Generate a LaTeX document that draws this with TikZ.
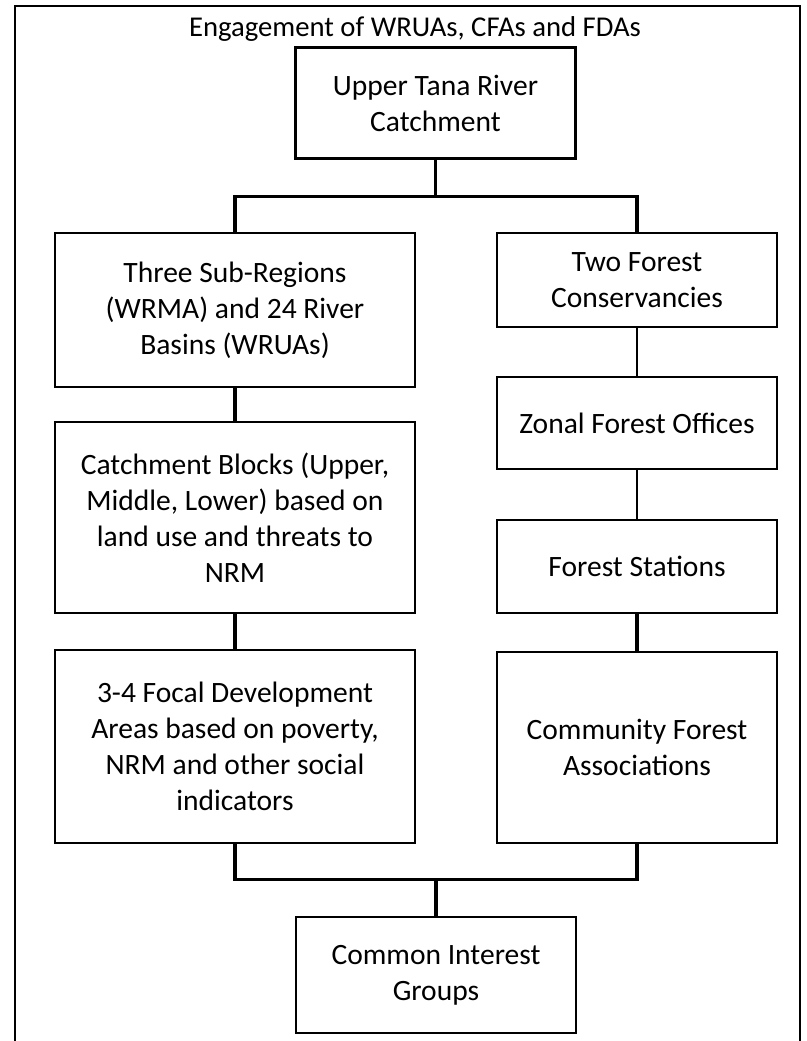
\documentclass[tikz,border=0pt]{standalone}
\usepackage{fontspec}
\setmainfont{Carlito}
\usepackage{tikz}
\usetikzlibrary{positioning, calc}

\begin{document}
\begin{tikzpicture}[
        x=0.025cm, y=-0.025cm,
        block/.style={rectangle, draw, line width=1.6pt, text centered, align=center, inner sep=0pt,
            font=\fontsize{21}{25.6}\selectfont},
        wide/.style={block, minimum width=9cm},
        narrow/.style={block, minimum width=7cm},
        trunk/.style={line width=2.3pt},
        link/.style={line width=1.6pt}
    ]
        \useasboundingbox (0,0) rectangle (807,1041);

        % Outer frame and heading
        \draw[link] (15,1041) |- (800,6) -- (800,1041);
        \node[anchor=base, font=\fontsize{20.4}{24}\selectfont] (title) at (415,36) {Engagement of WRUAs, CFAs and FDAs};

        % Catchment
        \node[narrow, minimum height=2.775cm] (catchment) at (435.5,103) {Upper Tana River\\ Catchment};

        % Water resources branch
        \node[wide, minimum height=3.85cm] (subregions) at (235,310) {Three Sub-Regions\\ (WRMA) and 24 River\\ Basins (WRUAs)};
        \node[wide, minimum height=4.775cm] (blocks) at (235,517.5) {Catchment Blocks (Upper,\\ Middle, Lower) based on\\ land use and threats to\\ NRM};
        \node[wide, minimum height=4.825cm] (focal) at (235,746.5) {3-4 Focal Development\\ Areas based on poverty,\\ NRM and other social\\ indicators};

        % Forest branch
        \node[narrow, minimum height=2.35cm] (conservancies) at (637,280) {Two Forest\\ Conservancies};
        \node[narrow, minimum height=2.3cm] (zonal) at (637,423) {Zonal Forest Offices};
        \node[narrow, minimum height=2.325cm] (stations) at (637,566.5) {Forest Stations};
        \node[narrow, minimum height=4.775cm] (cfa) at (637,747.5) {Community Forest\\ Associations};

        % Common interest groups
        \node[narrow, minimum height=2.9cm] (cig) at (436,975) {Common Interest\\ Groups};

        % Split into the two branches
        \draw[trunk] (catchment.south) -- ++(0,36.5) coordinate (split);
        \draw[trunk] (split) -| (subregions.north);
        \draw[trunk] (split) -| (conservancies.north);

        % Links within each branch
        \draw[trunk] (subregions) -- (blocks);
        \draw[trunk] (blocks) -- (focal);
        \draw[link] (conservancies) -- (zonal);
        \draw[link] (zonal) -- (stations);
        \draw[trunk] (stations) -- (cfa);

        % Branches meet again
        \draw[trunk] (focal.south) -- ++(0,35) coordinate (merge) -| (cfa.south);
        \draw[trunk] (cig.north) -- (cig.north |- merge);
    \end{tikzpicture}
\end{document}
